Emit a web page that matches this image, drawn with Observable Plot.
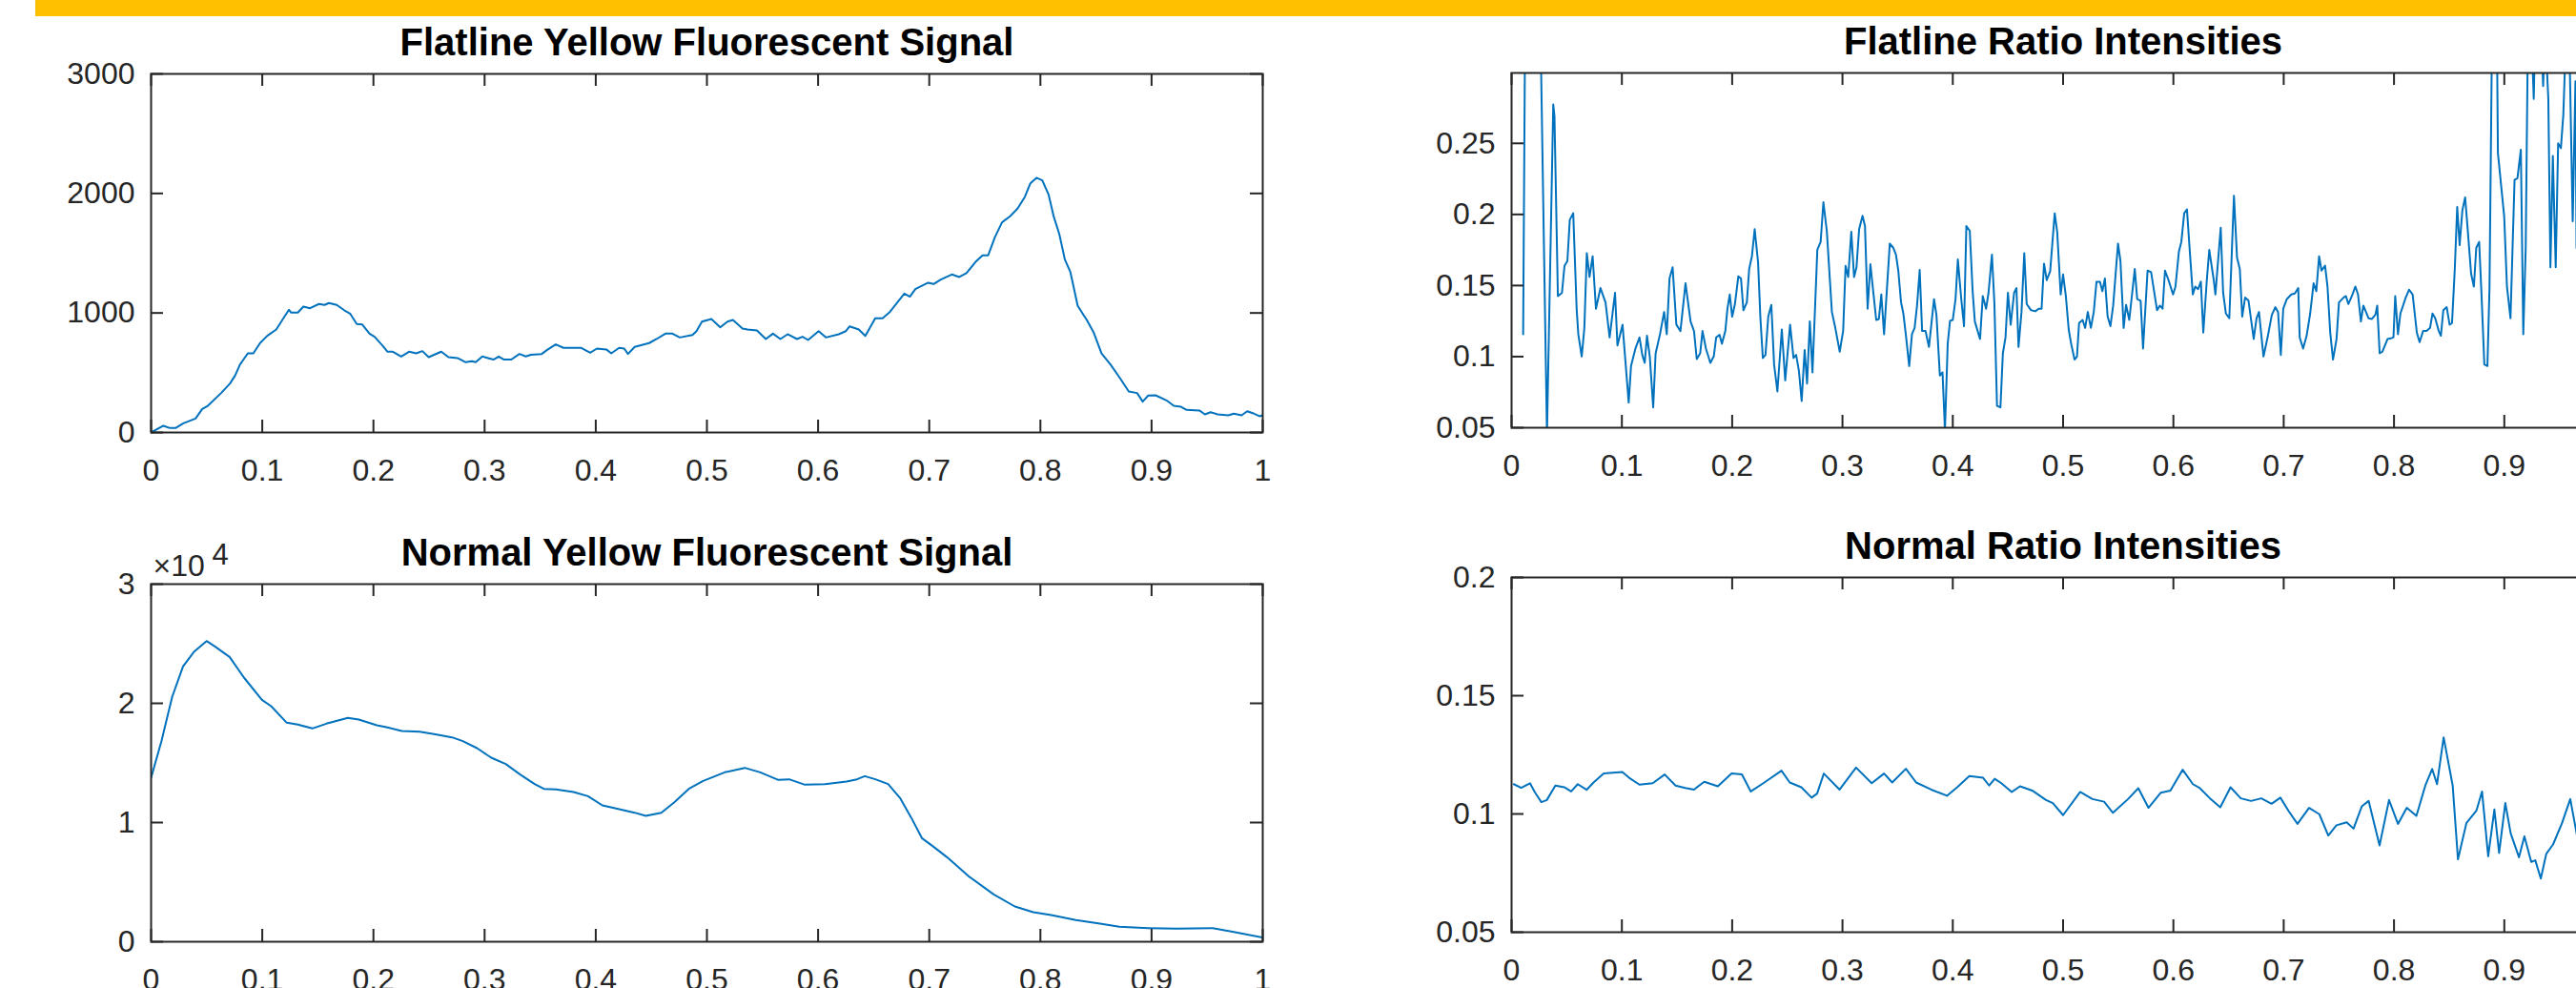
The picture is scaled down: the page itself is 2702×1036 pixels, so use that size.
<!DOCTYPE html>
<html>
<head>
<meta charset="utf-8">
<script src="https://cdn.jsdelivr.net/npm/d3@7"></script>
<script src="https://cdn.jsdelivr.net/npm/@observablehq/plot@0.6"></script>
<style>
  html, body { margin: 0; padding: 0; background: #fff; }
  body { width: 2702px; height: 1036px; overflow: hidden; position: relative; }
  .panel { position: absolute; }
  .panel svg { overflow: visible; max-width: none !important; display: block; }
  #bar { position: absolute; left: 37px; top: 0; width: 2665px; height: 17px; background: #FFC000; }
</style>
</head>
<body>
<div id="bar"></div>
<div id="tl" class="panel" style="left:0;top:0;width:1350px;height:520px"></div>
<div id="tr" class="panel" style="left:1400px;top:0;width:1400px;height:520px"></div>
<div id="bl" class="panel" style="left:0;top:520px;width:1350px;height:516px"></div>
<div id="br" class="panel" style="left:1400px;top:520px;width:1400px;height:516px"></div>
<script>
// ---------- data ----------
const titles = ["Flatline Yellow Fluorescent Signal", "Flatline Ratio Intensities", "Normal Yellow Fluorescent Signal", "Normal Ratio Intensities"];
const xTicks = [0, 0.1, 0.2, 0.3, 0.4, 0.5, 0.6, 0.7, 0.8, 0.9, 1];
const xTickLabelsCropped = [0, 0.1, 0.2, 0.3, 0.4, 0.5, 0.6, 0.7, 0.8, 0.9];
const flatYellowTicks = [0, 1000, 2000, 3000];
const normalYellowTicks = [0, 10000, 20000, 30000];
const flatRatioTicks = [0.05, 0.1, 0.15, 0.2, 0.25];
const normalRatioTicks = [0.05, 0.1, 0.15, 0.2];
const normalYellowExponent = ["×10", "4"];

const flatYellowX = [0,0.011,0.017,0.022,0.029,0.040,0.046,0.051,0.063,0.071,0.0755,0.080,0.087,0.092,0.098,0.1045,0.1126,0.119,0.124,0.126,0.132,0.137,0.143,0.151,0.156,0.160,0.167,0.174,0.179,0.185,0.190,0.1965,0.201,0.208,0.2127,0.2175,0.225,0.232,0.2385,0.244,0.2497,0.261,0.2675,0.2756,0.283,0.2885,0.292,0.298,0.303,0.308,0.3127,0.3175,0.324,0.3314,0.337,0.3417,0.3514,0.356,0.364,0.371,0.387,0.395,0.401,0.4095,0.414,0.421,0.4256,0.429,0.435,0.448,0.4547,0.4627,0.469,0.4756,0.487,0.4906,0.4955,0.504,0.512,0.5185,0.5234,0.532,0.5365,0.545,0.553,0.5594,0.5661,0.5726,0.581,0.586,0.591,0.6005,0.607,0.6186,0.625,0.6284,0.6366,0.6425,0.6514,0.658,0.6645,0.6776,0.6826,0.6875,0.699,0.704,0.7104,0.7203,0.727,0.7335,0.7417,0.748,0.753,0.759,0.7655,0.773,0.7794,0.786,0.791,0.7965,0.8017,0.8073,0.812,0.817,0.822,0.827,0.8335,0.8385,0.8417,0.848,0.855,0.863,0.871,0.8795,0.887,0.892,0.897,0.9036,0.9134,0.920,0.9265,0.9315,0.943,0.948,0.953,0.9595,0.969,0.974,0.981,0.986,0.991,0.997,1.0];
const flatYellowY = [0,56,37,37,77,117,197,223,330,410,476,569,662,662,748,809,862,955,1027,1003,1003,1053,1040,1075,1067,1083,1067,1021,995,907,903,827,801,729,676,676,636,676,662,681,630,676,630,623,588,596,588,636,623,610,636,610,610,657,636,650,657,689,737,708,708,668,702,695,662,708,702,657,716,748,782,827,827,795,816,848,928,950,880,928,941,870,862,854,782,827,782,822,782,801,774,848,795,822,848,888,862,808,955,955,1008,1162,1136,1200,1253,1242,1279,1322,1301,1333,1428,1482,1482,1633,1758,1811,1873,1971,2085,2131,2110,1992,1806,1660,1447,1341,1061,987,941,835,662,569,463,343,330,258,309,311,269,223,215,189,184,152,170,152,144,157,144,178,162,136,144];

const normalYellowX = [0,0.0093,0.019,0.0287,0.0383,0.0499,0.0577,0.0706,0.0835,0.0997,0.108,0.122,0.132,0.145,0.1577,0.177,0.1868,0.203,0.2126,0.2255,0.2416,0.2545,0.2707,0.2804,0.2932,0.306,0.319,0.332,0.345,0.3533,0.3642,0.380,0.393,0.406,0.422,0.435,0.445,0.459,0.4707,0.4837,0.4966,0.516,0.534,0.548,0.5643,0.574,0.5882,0.6063,0.6256,0.635,0.642,0.6515,0.663,0.674,0.6837,0.6934,0.703,0.716,0.7354,0.758,0.777,0.7935,0.8096,0.832,0.855,0.871,0.897,0.9226,0.955,0.974,1.0];
const normalYellowY = [13760,16827,20560,23093,24293,25227,24747,23893,22160,20293,19760,18373,18213,17893,18293,18773,18640,18160,17973,17680,17627,17413,17147,16827,16240,15440,14907,14027,13227,12827,12773,12560,12213,11440,11093,10827,10560,10827,11707,12827,13493,14213,14587,14213,13573,13627,13173,13227,13440,13627,13893,13627,13227,12027,10427,8693,8027,7093,5493,3973,2960,2480,2240,1813,1493,1253,1147,1093,1147,827,347];

const flatRatioX = [0.0105,0.0125,0.020,0.026,0.0321,0.0378,0.0389,0.042,0.0457,0.048,0.0506,0.0528,0.0559,0.059,0.0605,0.0636,0.066,0.0682,0.0707,0.0735,0.0765,0.0806,0.0852,0.0889,0.0938,0.096,0.1006,0.1062,0.1083,0.1123,0.116,0.1185,0.1207,0.1228,0.1253,0.1284,0.1306,0.1346,0.1383,0.1407,0.1432,0.146,0.1494,0.1531,0.1577,0.1623,0.1654,0.1679,0.171,0.1731,0.1762,0.1802,0.1833,0.1855,0.1886,0.1907,0.1938,0.1957,0.1978,0.2,0.2025,0.2056,0.208,0.2102,0.2133,0.2154,0.2179,0.2204,0.2235,0.2256,0.2278,0.2302,0.2327,0.2355,0.238,0.241,0.245,0.2481,0.2525,0.2556,0.258,0.2605,0.263,0.2657,0.2679,0.2704,0.2728,0.2772,0.2802,0.2827,0.2858,0.2904,0.2935,0.2975,0.3006,0.3028,0.3052,0.308,0.3105,0.3127,0.3151,0.3182,0.3204,0.3228,0.3253,0.3306,0.333,0.3352,0.3377,0.3429,0.346,0.3485,0.3506,0.3531,0.3552,0.3574,0.3605,0.363,0.3654,0.3676,0.37,0.3722,0.3753,0.3784,0.383,0.3852,0.3883,0.3907,0.3929,0.3954,0.3975,0.4,0.4025,0.4046,0.4077,0.4102,0.4123,0.4154,0.418,0.42,0.4247,0.4272,0.4302,0.4324,0.4355,0.4377,0.4401,0.4432,0.4454,0.4478,0.45,0.4525,0.4556,0.4577,0.4596,0.4623,0.4648,0.467,0.471,0.4748,0.4779,0.4805,0.4827,0.4852,0.4883,0.4924,0.4947,0.4978,0.5,0.5025,0.5051,0.5073,0.5104,0.5126,0.5145,0.5177,0.52,0.5224,0.5252,0.5278,0.5303,0.5334,0.5356,0.5379,0.5404,0.5429,0.5454,0.5498,0.552,0.5549,0.5571,0.56,0.565,0.5672,0.5703,0.5725,0.5766,0.5798,0.5852,0.5877,0.5902,0.5924,0.5956,0.5997,0.6019,0.605,0.6072,0.6098,0.6123,0.6145,0.6176,0.6198,0.6224,0.6249,0.6271,0.6303,0.6325,0.6366,0.6381,0.6429,0.6451,0.6476,0.6507,0.6549,0.6577,0.6602,0.6624,0.665,0.6681,0.6728,0.6754,0.6776,0.6817,0.6854,0.6892,0.6924,0.6949,0.6974,0.6996,0.7028,0.7069,0.7101,0.7132,0.7145,0.7176,0.7208,0.724,0.7271,0.7296,0.7321,0.7343,0.7375,0.7397,0.7422,0.7447,0.7479,0.7501,0.7542,0.7564,0.7586,0.7618,0.765,0.7674,0.77,0.7722,0.7769,0.78,0.7832,0.7848,0.787,0.7895,0.7942,0.798,0.7995,0.8011,0.8036,0.8058,0.8106,0.8137,0.8169,0.8207,0.8232,0.8264,0.8295,0.8327,0.8349,0.8374,0.8406,0.8425,0.8447,0.8478,0.8504,0.8526,0.8551,0.8573,0.8595,0.862,0.8645,0.8668,0.8699,0.8724,0.8746,0.8772,0.8794,0.8819,0.8847,0.8866,0.8889,0.8915,0.8936,0.8942,0.8999,0.9024,0.9056,0.9093,0.9119,0.915,0.9172,0.9194,0.9213,0.924,0.9267,0.928,0.933,0.9352,0.937,0.9399,0.9418,0.944,0.9466,0.9488,0.9513,0.9535,0.9557,0.959,0.962,0.9645,0.9655];
const flatRatioY = [0.1158,0.36,0.40,0.34,0.045,0.2773,0.2690,0.1426,0.1449,0.1639,0.1672,0.1963,0.2008,0.1337,0.1158,0.1001,0.1202,0.1728,0.1560,0.1706,0.1337,0.1482,0.1381,0.1135,0.1449,0.1079,0.1225,0.0677,0.0934,0.1057,0.1135,0.1012,0.0956,0.1147,0.1001,0.0643,0.1023,0.1158,0.1314,0.1158,0.1549,0.1628,0.1225,0.1180,0.1516,0.1247,0.1180,0.0983,0.1023,0.1180,0.1057,0.0956,0.1001,0.1135,0.1153,0.1091,0.1180,0.1337,0.1437,0.1281,0.1370,0.1565,0.1549,0.1326,0.1381,0.1616,0.1706,0.1896,0.1661,0.1270,0.0990,0.1012,0.1281,0.1364,0.0945,0.0755,0.1191,0.0833,0.1225,0.0990,0.1012,0.0900,0.0688,0.1046,0.0811,0.1247,0.0889,0.1751,0.1807,0.2086,0.1885,0.1314,0.1202,0.1035,0.1180,0.1639,0.1560,0.1878,0.1560,0.1628,0.1896,0.1990,0.1918,0.1337,0.1650,0.1258,0.1265,0.1437,0.1158,0.1795,0.1766,0.1717,0.1605,0.1381,0.1303,0.1158,0.0934,0.1158,0.1202,0.1359,0.1610,0.1180,0.1180,0.1068,0.1404,0.1292,0.0867,0.0889,0.048,0.1091,0.1252,0.1258,0.1404,0.1683,0.1404,0.1214,0.1918,0.1885,0.1460,0.1247,0.1124,0.1426,0.1337,0.1449,0.1717,0.1381,0.0654,0.0643,0.1023,0.1135,0.1449,0.1225,0.1449,0.1482,0.1068,0.1314,0.1728,0.1370,0.1326,0.1319,0.1337,0.1337,0.1654,0.1538,0.1601,0.2008,0.1874,0.1437,0.1578,0.1426,0.1191,0.1091,0.0979,0.1001,0.1236,0.1258,0.1202,0.1314,0.1202,0.1314,0.1527,0.1527,0.1460,0.1549,0.1281,0.1214,0.1359,0.1795,0.1672,0.1202,0.1364,0.1258,0.1616,0.1404,0.1393,0.1057,0.1605,0.1594,0.1326,0.1359,0.1337,0.1605,0.1538,0.1437,0.1493,0.1739,0.1807,0.2008,0.2035,0.1784,0.1437,0.1493,0.1475,0.1527,0.1169,0.1538,0.1751,0.1538,0.1437,0.1907,0.1449,0.1303,0.1270,0.2131,0.1695,0.1616,0.1281,0.1415,0.1393,0.1124,0.1270,0.1314,0.1001,0.1135,0.1292,0.1348,0.1314,0.1012,0.1337,0.1404,0.1437,0.1444,0.1482,0.1135,0.1057,0.1147,0.1303,0.1516,0.1460,0.1706,0.1605,0.1639,0.1493,0.1169,0.0979,0.1124,0.1381,0.1415,0.1426,0.1370,0.1426,0.1493,0.1437,0.1247,0.1359,0.1270,0.1265,0.1296,0.1359,0.1023,0.1035,0.1124,0.1131,0.1135,0.1426,0.1158,0.1303,0.1415,0.1471,0.1437,0.1169,0.1102,0.1180,0.1180,0.1202,0.1303,0.1270,0.1180,0.1147,0.1326,0.1348,0.1225,0.1236,0.1616,0.2053,0.1784,0.2030,0.2120,0.1896,0.1583,0.1493,0.1766,0.1807,0.1426,0.0945,0.0934,0.1493,0.33,0.36,0.30,0.2433,0.1986,0.1493,0.1270,0.2243,0.2254,0.2455,0.1158,0.1762,0.32,0.34,0.2813,0.33,0.34,0.2903,0.33,0.2813,0.1628,0.2411,0.1628,0.2500,0.2466,0.2701,0.32,0.32,0.1952,0.2936,0.1762];

const normalRatioX = [0.002,0.0087,0.0167,0.021,0.027,0.032,0.0397,0.0477,0.054,0.060,0.068,0.0743,0.0836,0.1004,0.1066,0.1159,0.128,0.1388,0.1487,0.1574,0.1654,0.1747,0.187,0.1995,0.2088,0.2169,0.2292,0.2447,0.2522,0.2627,0.272,0.277,0.2831,0.2974,0.3123,0.3265,0.3377,0.3451,0.3575,0.3668,0.3804,0.3947,0.404,0.415,0.4275,0.433,0.438,0.444,0.4535,0.461,0.472,0.4845,0.4907,0.500,0.5155,0.5266,0.5372,0.5452,0.5589,0.5682,0.5774,0.5886,0.5973,0.6084,0.6177,0.624,0.6332,0.6425,0.6518,0.6611,0.6704,0.6797,0.689,0.697,0.7045,0.7125,0.723,0.7323,0.7404,0.7478,0.7571,0.7633,0.7708,0.777,0.7869,0.7955,0.8036,0.8116,0.8203,0.8284,0.8346,0.839,0.845,0.8532,0.858,0.8656,0.8748,0.8798,0.8854,0.891,0.8953,0.9009,0.9058,0.9133,0.9182,0.9244,0.9281,0.9331,0.938,0.9442,0.9523,0.9598,0.9665];
const normalRatioY = [0.1126,0.1110,0.1130,0.1093,0.1050,0.1059,0.1120,0.1113,0.1095,0.1126,0.1102,0.1133,0.1171,0.1177,0.1153,0.1124,0.1130,0.1167,0.1120,0.1110,0.1103,0.1136,0.1117,0.1171,0.1167,0.1095,0.1133,0.1183,0.1133,0.1113,0.1069,0.1086,0.1171,0.1103,0.1196,0.1130,0.1171,0.1133,0.1191,0.1133,0.1103,0.1077,0.1113,0.1160,0.1153,0.1120,0.1149,0.1130,0.1093,0.1117,0.1099,0.1059,0.1046,0.0995,0.1093,0.1063,0.1052,0.1005,0.1063,0.1109,0.1026,0.1090,0.1099,0.1187,0.1126,0.1109,0.1066,0.1028,0.1113,0.1066,0.1055,0.1066,0.1043,0.1069,0.1012,0.0958,0.1026,0.0999,0.0909,0.0952,0.0965,0.0938,0.1032,0.1055,0.0867,0.1059,0.0958,0.1026,0.0992,0.1120,0.1190,0.1126,0.1324,0.1120,0.0808,0.0961,0.1015,0.1095,0.0821,0.1019,0.0835,0.1046,0.0918,0.0817,0.0905,0.0797,0.0804,0.0727,0.0831,0.0871,0.0961,0.1063,0.0894];

// ---------- drawing ----------
const rows = (xs, ys) => xs.map((x, i) => ({x, y: ys[i]}));
const AXIS = "#262626";
const LINE = "#0072BD";

function panel({el, data, title, yDomain, yTicks, yFormat, xLabels = xTicks, width, height, ml, mr, mt, mb, extra = []}) {
  const plotW = width - ml - mr;
  const plotH = height - mt - mb;
  const chart = Plot.plot({
    width, height,
    marginLeft: ml, marginRight: mr, marginTop: mt, marginBottom: mb,
    style: {fontFamily: "'Liberation Sans', Arial, Helvetica, sans-serif", fontSize: "32px", color: AXIS, background: "transparent", overflow: "visible", maxWidth: "none"},
    x: {domain: [0, 1]},
    y: {domain: yDomain},
    marks: [
      Plot.line(data, {x: "x", y: "y", stroke: LINE, strokeWidth: 2, clip: true}),
      Plot.frame({stroke: AXIS, strokeWidth: 2}),
      Plot.tickX(xTicks, {x: d => d, stroke: AXIS, strokeWidth: 2, insetTop: plotH - 13}),
      Plot.tickX(xTicks, {x: d => d, stroke: AXIS, strokeWidth: 2, insetBottom: plotH - 13}),
      Plot.tickY(yTicks, {y: d => d, stroke: AXIS, strokeWidth: 2, insetRight: plotW - 13}),
      Plot.tickY(yTicks, {y: d => d, stroke: AXIS, strokeWidth: 2, insetLeft: plotW - 13}),
      Plot.axisX(xLabels, {tickSize: 0, tickPadding: 28, tickFormat: d => String(d), label: null, fontSize: 32}),
      Plot.axisY(yTicks, {tickSize: 0, tickPadding: 17, tickFormat: yFormat, label: null, fontSize: 32}),
      Plot.text([title], {frameAnchor: "top", dy: -20, lineAnchor: "bottom", fontWeight: "bold", fontSize: 40, fill: "#000"}),
      ...extra
    ]
  });
  document.getElementById(el).appendChild(chart);
}

panel({el: "tl", data: rows(flatYellowX, flatYellowY), title: titles[0],
  yDomain: [0, 3000], yTicks: flatYellowTicks, yFormat: d => String(d),
  width: 1350, height: 520, ml: 158, mr: 26, mt: 77, mb: 67});

panel({el: "tr", data: rows(flatRatioX, flatRatioY), title: titles[1],
  yDomain: [0.05, 0.2995], yTicks: flatRatioTicks, yFormat: d => String(d), xLabels: xTickLabelsCropped,
  width: 1400, height: 520, ml: 185, mr: 58, mt: 76, mb: 72});

panel({el: "bl", data: rows(normalYellowX, normalYellowY), title: titles[2],
  yDomain: [0, 30000], yTicks: normalYellowTicks, yFormat: d => String(d / 10000),
  width: 1350, height: 516, ml: 158, mr: 26, mt: 92, mb: 49,
  extra: [
    Plot.text([normalYellowExponent[0]], {frameAnchor: "top-left", textAnchor: "start", lineAnchor: "bottom", dx: 2, dy: -9, fontSize: 32, fill: AXIS}),
    Plot.text([normalYellowExponent[1]], {frameAnchor: "top-left", textAnchor: "start", lineAnchor: "bottom", dx: 64, dy: -21, fontSize: 31, fill: AXIS})
  ]});

panel({el: "br", data: rows(normalRatioX, normalRatioY), title: titles[3],
  yDomain: [0.05, 0.2], yTicks: normalRatioTicks, yFormat: d => String(d), xLabels: xTickLabelsCropped,
  width: 1400, height: 516, ml: 185, mr: 58, mt: 85, mb: 59});
</script>
</body>
</html>
